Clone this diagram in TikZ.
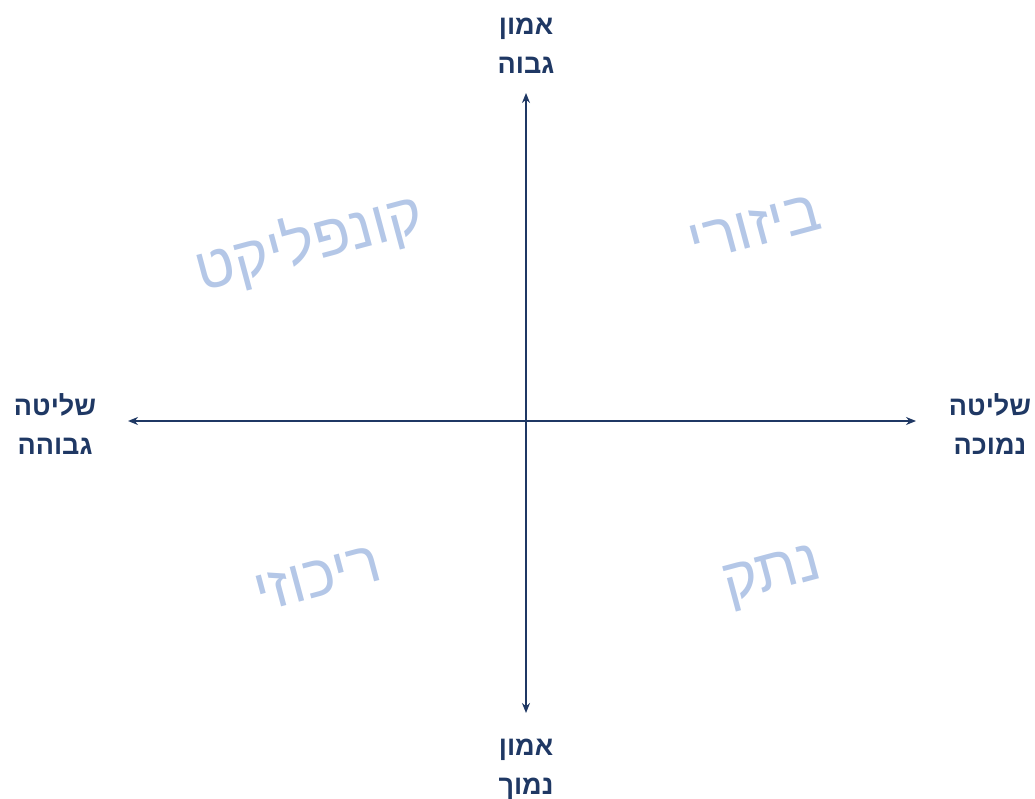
\documentclass[tikz,border=0pt]{standalone}
\usepackage{fontspec}
\setmainfont{Liberation Sans}
\newfontfamily\hebfont[Script=Hebrew]{Liberation Sans}
\TeXXeTstate=1
\usetikzlibrary{arrows.meta}
\definecolor{axisblue}{HTML}{1F3864}
\definecolor{quadblue}{HTML}{B4C7E7}
\newcommand{\heb}[1]{\beginR #1\endR}

\begin{document}
\begin{tikzpicture}[>={Stealth[length=10pt,width=8pt]}, x=1pt, y=-1pt,
                    every node/.style={font=\hebfont},
                    axislabel/.style={text=axisblue, align=center,
                      font=\hebfont\bfseries\fontsize{27}{39}\selectfont},
                    quadlabel/.style={text=quadblue, rotate=15,
                      font=\hebfont\fontsize{60}{66}\selectfont}]
  \useasboundingbox (0,0) rectangle (1035,799);

  % axis ends
  \coordinate (west) at (128,421);
  \coordinate (east) at (916,421);
  \coordinate (north) at (526,93);
  \coordinate (south) at (526,713);

  % axes
  \draw[<->, axisblue, line width=1.8pt] (west) -- (east);
  \draw[<->, axisblue, line width=1.8pt] (south) -- (north);

  % axis labels
  \node[axislabel] (trusthigh) at (526,46) {\heb{אמון}\\\heb{גבוה}};
  \node[axislabel] (trustlow) at (526,769) {\heb{אמון}\\\heb{נמוך}};
  \node[axislabel] (ctrlhigh) at (55,424) {\heb{שליטה}\\\heb{גבוהה}};
  \node[axislabel] (ctrllow) at (990,424) {\heb{שליטה}\\\heb{נמוכה}};

  % quadrant names
  \node[quadlabel] (conflict) at (309,243) {\heb{קונפליקט}};
  \node[quadlabel] (decentral) at (755,228) {\heb{ביזורי}};
  \node[quadlabel] (central) at (318,578) {\heb{ריכוזי}};
  \node[quadlabel] (detached) at (773,578) {\heb{נתק}};
\end{tikzpicture}
\end{document}
